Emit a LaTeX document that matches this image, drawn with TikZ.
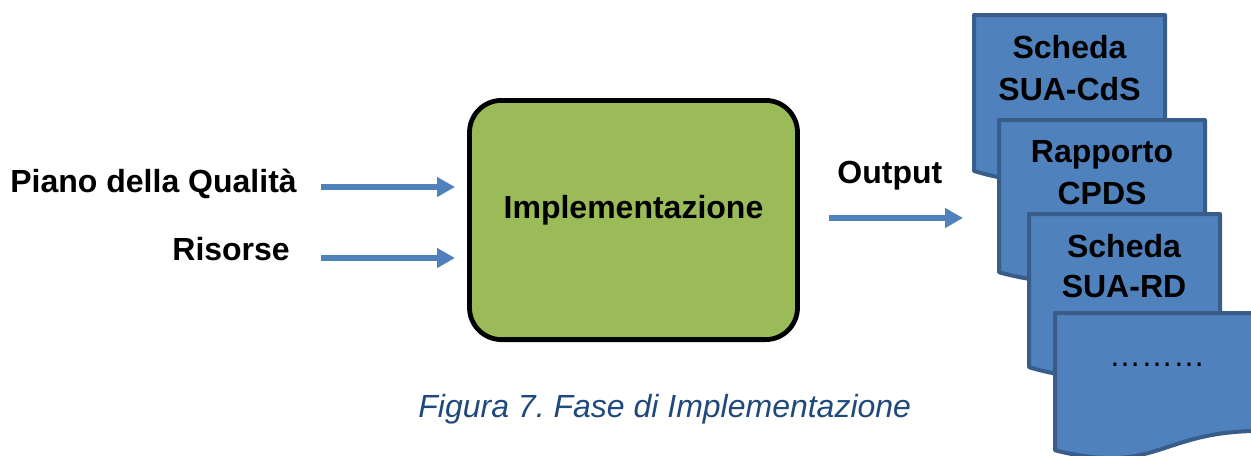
\documentclass[tikz,border=0pt]{standalone}
\usepackage{fontspec}
\setmainfont{Liberation Sans}
\usetikzlibrary{arrows.meta}
\definecolor{arrowblue}{HTML}{4F81BD}
\definecolor{docfill}{HTML}{4F81BD}
\definecolor{docline}{HTML}{385D8A}
\definecolor{boxgreen}{HTML}{9BBB59}
\definecolor{captionblue}{HTML}{1F497D}
\newcommand\mydocshape[4]{\path[docshape] (#1,#2) -- ({#1+#3},#2) -- ({#1+#3},{#2+0.802*#4}) .. controls ({#1+0.5*#3},{#2+0.802*#4}) and ({#1+0.5*#3},{#2+1.1075*#4}) .. (#1,{#2+0.934*#4}) -- cycle;}
\frenchspacing
\begin{document}
\begin{tikzpicture}[x=0.5pt,y=-0.5pt,
  lbl/.style={font=\fontsize{16}{19}\selectfont\bfseries, inner sep=0pt, anchor=base},
  flow/.style={draw=arrowblue, line width=3pt, -{Triangle[length=9pt,width=9.5pt]}},
  implbox/.style={draw=black, line width=2.4pt, fill=boxgreen, rounded corners=16pt,
    minimum width=164pt, minimum height=119.6pt, inner sep=0pt},
  docshape/.style={draw=docline, fill=docfill, line width=2pt, line join=round},
  caption/.style={font=\fontsize{16}{19}\selectfont\itshape, text=captionblue, inner sep=0pt, anchor=base west}]
\clip (0,0) rectangle (1251,455);

% inputs
\node[lbl, anchor=base west] (piano) at (10,192) {Piano della Qualità};
\node[lbl, anchor=base west] (risorse) at (172,260) {Risorse};

% process box
\node[implbox] (impl) at (633.5,220) {};
\node[lbl] (impllabel) at (633.5,218) {Implementazione};

% arrows
\coordinate (a1s) at (321,187);
\coordinate (a1e) at (455,187);
\coordinate (a2s) at (321,258);
\coordinate (a2e) at (455,258);
\coordinate (a3s) at (829,218);
\coordinate (a3e) at (963,218);
\draw[flow] (a1s) -- (a1e);
\draw[flow] (a2s) -- (a2e);
\draw[flow] (a3s) -- (a3e);

\node[lbl, anchor=base west] (output) at (837,183) {Output};

% documents
\mydocshape{974}{15}{191}{167}
\node[lbl] (d1a) at (1069.5,58) {Scheda};
\node[lbl] (d1b) at (1069.5,100) {SUA-CdS};

\mydocshape{999}{120}{206}{163}
\node[lbl] (d2a) at (1102,162) {Rapporto};
\node[lbl] (d2b) at (1102,204) {CPDS};

\mydocshape{1029}{214}{191}{164}
\node[lbl] (d3a) at (1124,257) {Scheda};
\node[lbl] (d3b) at (1124,297) {SUA-RD};

\mydocshape{1055}{313}{206}{147}
\node[lbl, font=\fontsize{16}{19}\selectfont] (d4a) at (1157,366) {………};

% caption
\node[caption] (cap) at (418,417) {Figura 7. Fase di Implementazione};
\end{tikzpicture}
\end{document}
